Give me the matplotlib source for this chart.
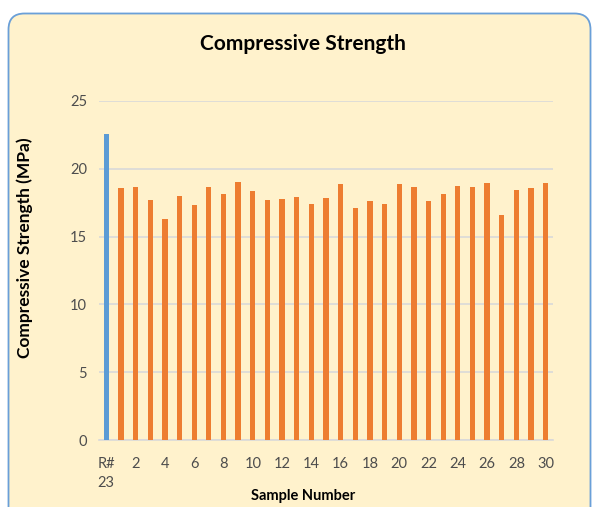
import matplotlib.pyplot as plt
from matplotlib.patches import FancyBboxPatch

plt.rcParams['font.family'] = ['Lato', 'DejaVu Sans']

# data
samples = ["R#\n23"] + [str(i) for i in range(1, 31)]
strength = [22.57,
            18.56, 18.63, 17.70, 16.27, 17.97, 17.33, 18.68, 18.17, 19.00, 18.36,
            17.70, 17.77, 17.92, 17.40, 17.85, 18.88, 17.13, 17.65, 17.40, 18.88,
            18.63, 17.65, 18.12, 18.76, 18.63, 18.95, 16.57, 18.46, 18.58, 18.95]
bar_colors = ["#5B9BD5"] + ["#ED7D31"] * 30
yticks = [0, 5, 10, 15, 20, 25]

W, H = 592, 507
fig = plt.figure(figsize=(W / 100, H / 100), dpi=100)
fig.patch.set_facecolor("white")

bg = fig.add_axes([0, 0, 1, 1], zorder=-1)
bg.set_axis_off()
bg.set_xlim(0, W)
bg.set_ylim(H, 0)
box = FancyBboxPatch((8.5, 13.5), W - 1.5 - 8.5, H + 20,
                     boxstyle="round,pad=0,rounding_size=16",
                     facecolor="#FFF2CC", edgecolor="#6A9FD8", linewidth=1.3)
bg.add_patch(box)

ax = fig.add_axes([99 / W, 1 - 440 / H, (553 - 99) / W, (440 - 101) / H])
ax.set_facecolor("none")

x = list(range(len(samples)))
ax.bar(x, strength, width=0.36, color=bar_colors, zorder=3)

ax.set_ylim(0, 25)
ax.set_xlim(-0.5, len(samples) - 0.5)
ax.set_yticks(yticks)
ax.set_xticks(x[::2])
ax.set_xticklabels(samples[::2], linespacing=1.5)
ax.grid(axis="y", color="#D9D9D9", linewidth=1.2, zorder=0)
ax.tick_params(axis="both", length=0, labelsize=10.5, labelcolor="#4D4D4D")
ax.tick_params(axis="x", pad=12)
ax.tick_params(axis="y", pad=8.5)
for s in ["top", "right", "left"]:
    ax.spines[s].set_visible(False)
ax.spines["bottom"].set_color("#D9D9D9")
ax.spines["bottom"].set_linewidth(1.2)

fig.text(303 / W, 1 - 44 / H, "Compressive Strength", ha="center", va="center",
         fontsize=15, fontweight="bold")
fig.text(25 / W, 1 - 248 / H, "Compressive Strength (MPa)", ha="center", va="center",
         rotation=90, fontsize=12.5, fontweight="bold")
fig.text(303 / W, 1 - 496 / H, "Sample Number", ha="center", va="center",
         fontsize=10.5, fontweight="bold")

fig.savefig("out.png", dpi=100)
